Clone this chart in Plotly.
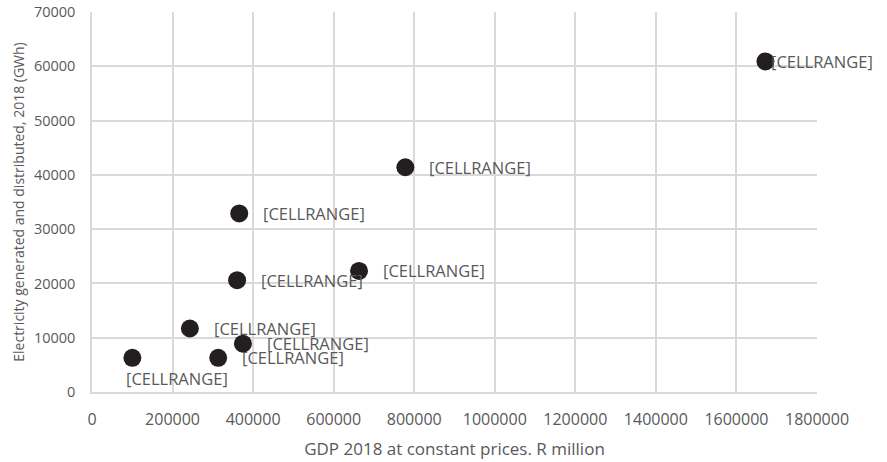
import plotly.graph_objects as go

gdp = [1672000, 778000, 365500, 663000, 360300, 243000, 374700, 100200, 313300]
electricity = [60900, 41400, 32900, 22300, 20600, 11700, 8900, 6300, 6300]
labels = ["[CELLRANGE]"] * 9
# label offsets in pixels (style only)
label_dx = [4, 22, 22, 22, 22, 22, 22, -8, 22]
label_dy = [0, 0, 0, 0, 0, 0, 0, -21, 0]

x_ticks = [0, 200000, 400000, 600000, 800000, 1000000, 1200000, 1400000, 1600000, 1800000]
y_ticks = [0, 10000, 20000, 30000, 40000, 50000, 60000, 70000]

font_family = "Open Sans"
gray = "#595959"

fig = go.Figure()
fig.add_trace(go.Scatter(
    x=gdp, y=electricity, mode="markers",
    marker=dict(size=18, color="#231f20", line=dict(width=0)),
    showlegend=False, hoverinfo="skip",
))

for xv, yv, t, dx, dy in zip(gdp, electricity, labels, label_dx, label_dy):
    fig.add_annotation(
        x=xv, y=yv, xref="x", yref="y", text=t, showarrow=False,
        xanchor="left", yanchor="middle", xshift=dx, yshift=dy,
        font=dict(family=font_family, size=16.5, color=gray),
    )

fig.update_layout(
    width=887, height=462,
    margin=dict(l=92, r=70, t=12, b=70, autoexpand=False),
    paper_bgcolor="white", plot_bgcolor="white",
    font=dict(family=font_family, color=gray),
    xaxis=dict(
        range=[0, 1800000], tickvals=x_ticks, ticktext=[str(v) for v in x_ticks],
        showgrid=True, gridcolor="#d9d9d9", gridwidth=1.5,
        zeroline=False, showline=True, linecolor="#d9d9d9", linewidth=1.5,
        ticks="outside", ticklen=12, tickcolor="rgba(0,0,0,0)",
        tickfont=dict(family=font_family, size=16, color=gray),
        title=dict(text="GDP 2018 at constant prices. R million",
                   font=dict(family=font_family, size=17, color=gray), standoff=14),
        fixedrange=True, automargin=False,
    ),
    yaxis=dict(
        range=[0, 70000], tickvals=y_ticks, ticktext=[str(v) for v in y_ticks],
        showgrid=True, gridcolor="#d9d9d9", gridwidth=1.5,
        zeroline=False, showline=True, linecolor="#d9d9d9", linewidth=1.5,
        ticks="outside", ticklen=12, tickcolor="rgba(0,0,0,0)",
        tickfont=dict(family=font_family, size=14.5, color=gray),
        title=dict(text="Electricity generated and distributed, 2018 (GWh)",
                   font=dict(family=font_family, size=14, color=gray), standoff=6),
        fixedrange=True, automargin=False,
    ),
)

fig.write_html("out.html")
